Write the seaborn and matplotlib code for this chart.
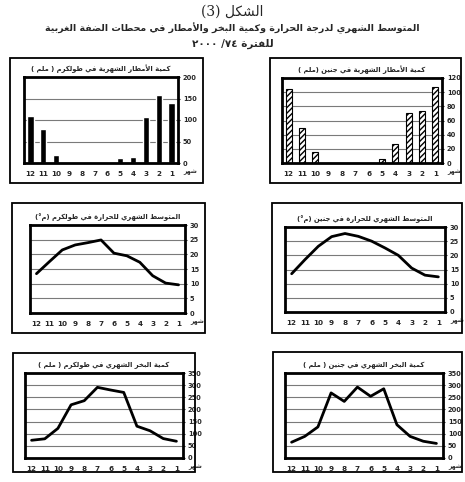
import re
import matplotlib
matplotlib.use("Agg")
import matplotlib.pyplot as plt
from matplotlib.patches import Rectangle
import seaborn as sns

# ---------------- data (month 1..12) ----------------
months = [1, 2, 3, 4, 5, 6, 7, 8, 9, 10, 11, 12]
month_order = ["12", "11", "10", "9", "8", "7", "6", "5", "4", "3", "2", "1"]
rain_tulkarm = [140, 158, 107, 14, 12, 0, 0, 0, 0, 19, 80, 109]
rain_jenin = [108, 74, 70, 27, 6, 0, 0, 0, 0, 16, 50, 105]
temp_tulkarm = [9.6, 10.2, 12.7, 17.3, 19.5, 20.4, 24.9, 24.0, 23.2, 21.5, 17.5, 13.4]
temp_jenin = [12.4, 13.0, 15.5, 20.0, 22.6, 25.0, 26.7, 27.7, 26.6, 23.2, 18.5, 13.5]
evap_tulkarm = [69, 80, 112, 131, 270, 280, 291, 236, 219, 122, 79, 73]
evap_jenin = [60, 69, 89, 137, 285, 254, 292, 233, 268, 128, 89, 65]

fig_title1 = "الشكل (3)"
fig_title2 = "المتوسط الشهري لدرجة الحرارة وكمية البخر والأمطار في محطات الضفة الغربية"
fig_title3 = "للفترة ٧٤/ ٢٠٠٠"
titles = {
    "rt": "كمية الأمطار الشهرية في طولكرم ( ملم )",
    "rj": "كمية الأمطار الشهرية في جنين (ملم )",
    "tt": "المتوسط الشهري للحرارة في طولكرم (م°)",
    "tj": "المتوسط الشهري للحرارة في جنين (م°)",
    "et": "كمية البخر الشهري في طولكرم ( ملم )",
    "ej": "كمية البخر الشهري في جنين ( ملم )",
}
xlab = "شهر"

# ---------------- minimal Arabic shaping ----------------
RIGHT = {0x0622: 0xFE81, 0x0623: 0xFE83, 0x0624: 0xFE85, 0x0625: 0xFE87,
         0x0627: 0xFE8D, 0x0629: 0xFE93, 0x062F: 0xFEA9, 0x0630: 0xFEAB,
         0x0631: 0xFEAD, 0x0632: 0xFEAF, 0x0648: 0xFEED, 0x0649: 0xFEEF}
DUAL = {0x0626: 0xFE89, 0x0628: 0xFE8F, 0x062A: 0xFE95, 0x062B: 0xFE99,
        0x062C: 0xFE9D, 0x062D: 0xFEA1, 0x062E: 0xFEA5, 0x0633: 0xFEB1,
        0x0634: 0xFEB5, 0x0635: 0xFEB9, 0x0636: 0xFEBD, 0x0637: 0xFEC1,
        0x0638: 0xFEC5, 0x0639: 0xFEC9, 0x063A: 0xFECD, 0x0641: 0xFED1,
        0x0642: 0xFED5, 0x0643: 0xFED9, 0x0644: 0xFEDD, 0x0645: 0xFEE1,
        0x0646: 0xFEE5, 0x0647: 0xFEE9, 0x064A: 0xFEF1}
LAMALEF = {0x0622: 0xFEF5, 0x0623: 0xFEF7, 0x0625: 0xFEF9, 0x0627: 0xFEFB}


def ar(s):
    items = []
    i = 0
    while i < len(s):
        c = ord(s[i])
        if c == 0x0644 and i + 1 < len(s) and ord(s[i + 1]) in LAMALEF:
            items.append(("R", LAMALEF[ord(s[i + 1])]))
            i += 2
            continue
        if c in DUAL:
            items.append(("D", DUAL[c]))
        elif c in RIGHT:
            items.append(("R", RIGHT[c]))
        elif c == 0x0621:
            items.append(("N", 0xFE80))
        else:
            items.append(("X", s[i]))
        i += 1
    out = []
    for k, (t, v) in enumerate(items):
        if t == "X":
            out.append(v)
            continue
        if t == "N":
            out.append(chr(v))
            continue
        prev = k > 0 and items[k - 1][0] == "D"
        nxt = t == "D" and k + 1 < len(items) and items[k + 1][0] in ("D", "R")
        if t == "R":
            out.append(chr(v + (1 if prev else 0)))
        else:
            off = 3 if (prev and nxt) else 1 if prev else 2 if nxt else 0
            out.append(chr(v + off))
    shaped = "".join(out)
    toks = re.findall(r"[0-9\u0660-\u0669]+|.", shaped, flags=re.S)
    toks.reverse()
    mirror = {"(": ")", ")": "(", "[": "]", "]": "["}
    return "".join(mirror.get(t, t) for t in toks)


# ---------------- figure ----------------
sns.set_theme(style="white")
plt.rcParams["font.family"] = ["DejaVu Sans"]
W, H = 465, 482
fig = plt.figure(figsize=(W / 100, H / 100), dpi=100)
fig.patch.set_facecolor("white")


def frac(x0, y0, x1, y1):
    return [x0 / W, 1 - y1 / H, (x1 - x0) / W, (y1 - y0) / H]


def box(x0, y0, x1, y1):
    fig.patches.append(Rectangle((x0 / W, 1 - y1 / H), (x1 - x0) / W, (y1 - y0) / H,
                                 transform=fig.transFigure, fill=False,
                                 edgecolor="black", linewidth=1.3, zorder=0))


def style(ax, ymax, step, title):
    ax.set_ylim(0, ymax)
    ax.set_yticks(range(0, ymax + 1, step))
    ax.yaxis.tick_right()
    ax.grid(axis="y", color="#7a7a7a", linewidth=0.8)
    ax.set_axisbelow(True)
    for sp in ax.spines.values():
        sp.set_visible(True)
        sp.set_color("black")
        sp.set_linewidth(2.0)
    ax.tick_params(axis="y", labelsize=4.8, length=1.5, width=0.8, pad=2, right=True)
    ax.tick_params(axis="x", labelsize=5.2, length=0, pad=6, bottom=True)
    for lab in ax.get_xticklabels() + ax.get_yticklabels():
        lab.set_fontweight("bold")
    ax.set_xlabel("")
    ax.set_ylabel("")
    ax.set_title(ar(title), fontsize=4.9, fontweight="bold", pad=4)
    ax.text(1.035, -0.105, ar(xlab), transform=ax.transAxes, fontsize=4.4,
            fontweight="bold", ha="left", va="center")


month_str = [str(m) for m in months]

# --- rainfall Tulkarm (solid bars)
box(10, 58, 203, 183)
ax = fig.add_axes(frac(24, 77, 178, 163))
sns.barplot(x=month_str, y=rain_tulkarm, order=month_order, color="black",
            width=0.5, ax=ax, saturation=1)
style(ax, 200, 50, titles["rt"])

# --- rainfall Jenin (hatched bars)
box(270, 58, 461, 183)
ax = fig.add_axes(frac(282, 78, 442, 163))
sns.barplot(x=month_str, y=rain_jenin, order=month_order, color="white",
            edgecolor="black", linewidth=0.8, hatch="//////", width=0.45,
            ax=ax, saturation=1)
style(ax, 120, 20, titles["rj"])

# --- temperature
box(12, 203, 205, 333)
ax = fig.add_axes(frac(30, 225, 185, 313))
sns.lineplot(x=months, y=temp_tulkarm, color="black", linewidth=2.0, ax=ax)
ax.set_xlim(12.5, 0.5)
ax.set_xticks(months)
style(ax, 30, 5, titles["tt"])

box(272, 203, 462, 333)
ax = fig.add_axes(frac(285, 227, 445, 312))
sns.lineplot(x=months, y=temp_jenin, color="black", linewidth=2.0, ax=ax)
ax.set_xlim(12.5, 0.5)
ax.set_xticks(months)
style(ax, 30, 5, titles["tj"])

# --- evaporation
box(13, 353, 195, 472)
ax = fig.add_axes(frac(25, 373, 183, 458))
sns.lineplot(x=months, y=evap_tulkarm, color="black", linewidth=2.0, ax=ax)
ax.set_xlim(12.5, 0.5)
ax.set_xticks(months)
style(ax, 350, 50, titles["et"])

box(273, 352, 462, 472)
ax = fig.add_axes(frac(285, 373, 443, 458))
sns.lineplot(x=months, y=evap_jenin, color="black", linewidth=2.0, ax=ax)
ax.set_xlim(12.5, 0.5)
ax.set_xticks(months)
style(ax, 350, 50, titles["ej"])

# --- figure titles
fig.text(0.5, 1 - 12 / H, ar(fig_title1), ha="center", va="center",
         fontsize=10, family=["DejaVu Serif", "DejaVu Sans"])
fig.text(0.5, 1 - 28 / H, ar(fig_title2), ha="center", va="center",
         fontsize=6.8, fontweight="bold")
fig.text(0.5, 1 - 44 / H, ar(fig_title3), ha="center", va="center",
         fontsize=7.5, fontweight="bold")

fig.savefig("out.png", dpi=100, facecolor="white")
